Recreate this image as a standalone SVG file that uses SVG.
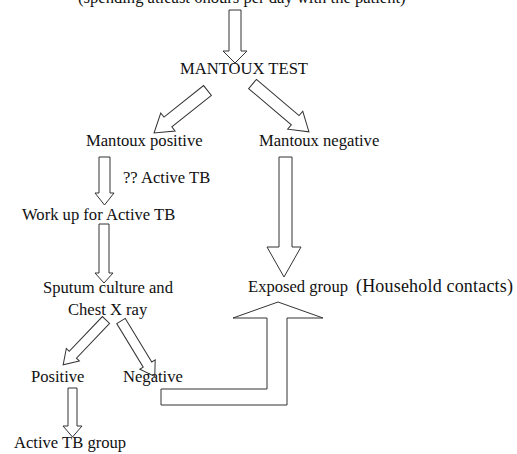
<svg xmlns="http://www.w3.org/2000/svg" width="517" height="454" viewBox="0 0 517 454">
<style>
text { font-family: "Liberation Serif", "Times New Roman", serif; font-size: 16.6px; fill: #111; }
.big { font-size: 18px; }
.arrow { fill: none; stroke: #333; stroke-width: 1; stroke-linejoin: miter; }
</style>
<rect width="517" height="454" fill="#fff"/>
<g id="nodes">
  <g id="n-criteria"><text x="78" y="2.5">(spending atleast 6hours per day with the patient)</text></g>
  <g id="n-mantoux"><text x="180" y="74">MANTOUX TEST</text></g>
  <g id="n-pos"><text x="86" y="146">Mantoux positive</text></g>
  <g id="n-neg"><text x="259" y="146">Mantoux negative</text></g>
  <g id="n-q"><text x="123" y="183">?? Active TB</text></g>
  <g id="n-workup"><text x="22" y="220">Work up for Active TB</text></g>
  <g id="n-sputum"><text x="43" y="293">Sputum culture and</text><text x="68" y="315">Chest X ray</text></g>
  <g id="n-exposed"><text x="248" y="292">Exposed group</text><text class="big" x="356" y="292" textLength="157" lengthAdjust="spacing">(Household contacts)</text></g>
  <g id="n-positive"><text x="31" y="382">Positive</text></g>
  <g id="n-negative"><text x="123" y="382">Negative</text></g>
  <g id="n-active"><text x="14" y="448">Active TB group</text></g>
</g>
<g id="connectors">
  <polygon class="arrow" points="229,10 241,10 241,51 247,51 235,63 223,51 229,51"/>
  <polygon class="arrow" transform="translate(207.5,90.5) rotate(141.5)" points="0,-6.3 50.6,-6.3 50.6,-11.5 68.3,0 50.6,11.5 50.6,6.3 0,6.3"/>
  <polygon class="arrow" transform="translate(252.5,84) rotate(40.3)" points="0,-6 56,-6 56,-11.7 74,0 56,11.7 56,6 0,6"/>
  <polygon class="arrow" points="99,157 110,157 110,193 114,193 104.5,205 95,193 99,193"/>
  <polygon class="arrow" points="99,224 109,224 109,273 113,273 104,283 95,273 99,273"/>
  <polygon class="arrow" points="279,157 292,157 292,247 301,247 284,277 267,247 279,247"/>
  <polygon class="arrow" transform="translate(106,320) rotate(133.7)" points="0,-5 48,-5 48,-9 62,0 48,9 48,5 0,5"/>
  <polygon class="arrow" transform="translate(121,321) rotate(58.7)" points="0,-5 51,-5 51,-9 65,0 51,9 51,5 0,5"/>
  <polygon class="arrow" points="68,388 77,388 77,426 82,426 72.5,437 63,426 68,426"/>
  <polygon class="arrow" points="161,389 267,389 267,318 233,318 278,302 323,318 287,318 287,405 161,405"/>
</g>
</svg>
